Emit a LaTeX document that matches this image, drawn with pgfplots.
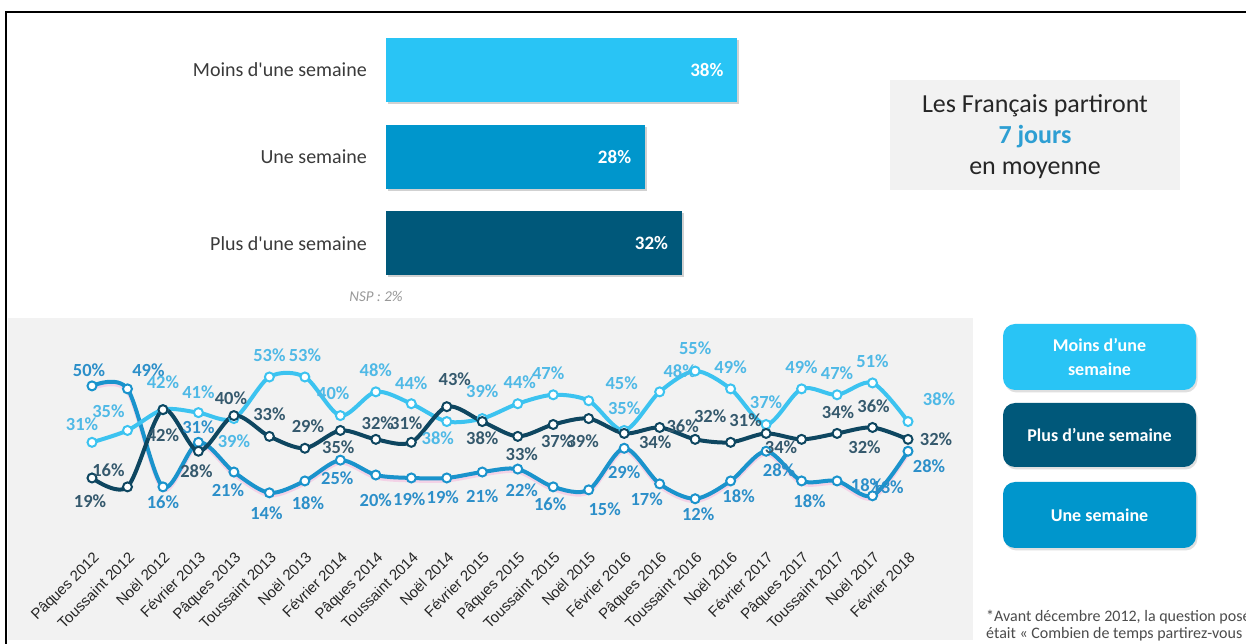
\documentclass[border=0pt]{standalone}
\usepackage{pgfplots}
\pgfplotsset{compat=1.18}
\usepackage{pgfplotstable}
\usepackage{fontspec}
\setmainfont{Carlito}
\newfontfamily\arialf{Liberation Sans}
\usetikzlibrary{shadows}

\definecolor{cLight}{HTML}{29C4F5}
\definecolor{cMid}{HTML}{0096CC}
\definecolor{cDark}{HTML}{00587A}
\definecolor{lnLight}{HTML}{3CC3F0}
\definecolor{lnMid}{HTML}{1A93CC}
\definecolor{lnDark}{HTML}{0E4660}
\definecolor{lbLight}{HTML}{4FB9E6}
\definecolor{lbMid}{HTML}{2C8FC9}
\definecolor{lbDark}{HTML}{35596D}
\definecolor{bgGray}{HTML}{F2F2F2}
\definecolor{txtGray}{HTML}{3A3A3A}
\definecolor{joursBlue}{HTML}{2E9FD3}

% Moins d'une semaine
\pgfplotstableread{
x v dx dy
0 31 -10 18
1 35 -19 19
2 42 0 27
3 41 0 20
4 39 0 -23
5 53 0 22
6 53 0 22
7 40 -7 22
8 48 0 22
9 44 0 21
10 38 -9 -17
11 39 0 27
12 44 2 22
13 47 -5 22
14 45 33 18
15 35 0 22
16 48 20 21
17 55 0 23
18 49 0 22
19 37 0 22
20 49 0 22
21 47 0 22
22 51 0 22
23 38 31 22
}\moins

% Plus d'une semaine
\pgfplotstableread{
x v dx dy
0 19 -2 -23
1 16 -19 17
2 42 0 -26
3 28 -2 -20
4 40 -3 17
5 33 0 22
6 29 3 22
7 35 -2 -17
8 32 2 16
9 31 -5 19
10 43 8 27
11 38 0 -17
12 33 4 -18
13 37 4 -17
14 39 -6 -23
15 34 31 -9
16 36 23 1
17 32 15 23
18 31 15 22
19 34 15 -14
20 32 63 -8
21 34 1 21
22 36 1 21
23 32 28 0
}\plus

% Une semaine
\pgfplotstableread{
x v dx dy
0 50 -3 16
1 49 21 19
2 16 0 -15
3 31 0 15
4 21 -6 -18
5 14 -3 -20
6 18 3 -22
7 25 -3 -18
8 20 0 -25
9 19 -2 -21
10 19 -4 -19
11 21 0 -24
12 22 4 -21
13 16 -3 -17
14 15 16 -19
15 29 0 -24
16 17 -13 -15
17 12 3 -15
18 18 8 -15
19 28 13 -19
20 18 8 -20
21 18 30 -4
22 13 15 9
23 28 21 -15
}\une

\pgfplotsset{
  lab/.style={
    visualization depends on={\thisrow{dx}\as\labdx},
    visualization depends on={\thisrow{dy}\as\labdy},
    point meta=y,
    nodes near coords={\pgfmathprintnumber{\pgfplotspointmeta}\%},
    every node near coord/.append style={anchor=center, inner sep=0pt,
      xshift=\labdx pt, yshift=\labdy pt,
      font=\bfseries\fontsize{18.5}{18.5}\selectfont, text=#1},
  },
  serie/.style={color=#1, line width=4pt, smooth, mark=*, mark size=4.5pt,
    mark options={fill=white, draw=#1, line width=2pt}},
}

\begin{document}
\begin{tikzpicture}
\useasboundingbox (0,0) rectangle (1246pt,644pt);
\fill[white] (0,0) rectangle (1246pt,644pt);
\fill[bgGray] (8pt,4pt) rectangle (973pt,326pt);
\draw[line width=2pt] (6pt,0pt) -- (6pt,632pt) -- (1246pt,632pt);

% bars
\begin{axis}[at={(386pt,400.5pt)}, anchor=south west, scale only axis,
  width=351pt, height=173.5pt, xmin=0, xmax=38, ymin=0, ymax=2,
  clip=false, axis line style={draw=none}, major tick length=0pt,
  /pgf/number format/assume math mode=true,
  xtick=\empty, ytick={0,1,2},
  yticklabels={Plus d\textquotesingle une semaine, Une semaine, Moins d\textquotesingle une semaine},
  yticklabel style={font=\fontsize{20}{20}\selectfont, text=txtGray, inner sep=0pt, anchor=east},
  yticklabel shift=19pt,
  bar width=64pt,
  point meta=x,
  nodes near coords={\pgfmathprintnumber{\pgfplotspointmeta}\%},
  every node near coord/.append style={anchor=east, xshift=-10pt, text=white,
    font=\bfseries\fontsize{19}{19}\selectfont},
]
\addplot[xbar, bar shift=0pt, fill=cLight, draw=none,
  preaction={fill=black!18, transform canvas={shift={(2pt,-2pt)}}}] coordinates {(38,2)};
\addplot[xbar, bar shift=0pt, fill=cMid, draw=none,
  preaction={fill=black!18, transform canvas={shift={(2pt,-2pt)}}}] coordinates {(28,1)};
\addplot[xbar, bar shift=0pt, fill=cDark, draw=none,
  preaction={fill=black!18, transform canvas={shift={(2pt,-2pt)}}}] coordinates {(32,0)};
\end{axis}

\node[font=\itshape\fontsize{15}{15}\selectfont, text=black!40] at (376pt,348pt) {NSP : 2\%};

% info box
\fill[bgGray] (890pt,454pt) rectangle (1180pt,564pt);
\node[font=\fontsize{26}{26}\selectfont, text=black!85] at (1035pt,538pt) {Les Français partiront};
\node[font=\bfseries\fontsize{26}{26}\selectfont, text=joursBlue] at (1035pt,507pt) {7 jours};
\node[font=\fontsize{26}{26}\selectfont, text=black!85] at (1035pt,474pt) {en moyenne};

% line chart
\begin{axis}[at={(92pt,109.6pt)}, anchor=south west, scale only axis,
  width=816pt, height=178.2pt, xmin=0, xmax=23, ymin=0, ymax=60,
  clip=false, axis line style={draw=none}, major tick length=0pt,
  /pgf/number format/assume math mode=true,
  ytick=\empty, xtick={0,...,23},
  xticklabels={Pâques 2012, Toussaint 2012, Noël 2012, Février 2013, Pâques 2013,
    Toussaint 2013, Noël 2013, Février 2014, Pâques 2014, Toussaint 2014, Noël 2014,
    Février 2015, Pâques 2015, Toussaint 2015, Noël 2015, Février 2016, Pâques 2016,
    Toussaint 2016, Noël 2016, Février 2017, Pâques 2017, Toussaint 2017, Noël 2017,
    Février 2018},
  xticklabel style={font=\arialf\fontsize{15}{15}\selectfont, text=black!85,
    inner sep=0pt, rotate=45, anchor=north east},
  xticklabel shift=16pt,
]
\addplot[draw=magenta!40, line width=4pt, opacity=0.35, smooth, no marks, forget plot,
  transform canvas={yshift=-2.5pt}] table[x=x, y=v] {\une};
\addplot[serie=lnMid, lab=lbMid] table[x=x, y=v] {\une};
\addplot[serie=lnLight, lab=lbLight] table[x=x, y=v] {\moins};
\addplot[serie=lnDark, lab=lbDark] table[x=x, y=v] {\plus};
\end{axis}

% legend boxes
\node[fill=cLight, rounded corners=12pt, minimum width=193pt, minimum height=66pt,
  drop shadow={shadow xshift=1.5pt, shadow yshift=-2.5pt, opacity=0.25},
  align=center, text=white, font=\bfseries\fontsize{18}{24}\selectfont]
  at (1099.5pt,287pt) {Moins d’une\\semaine};
\node[fill=cDark, rounded corners=12pt, minimum width=193pt, minimum height=64pt,
  drop shadow={shadow xshift=1.5pt, shadow yshift=-2.5pt, opacity=0.25},
  align=center, text=white, font=\bfseries\fontsize{18}{24}\selectfont]
  at (1099.5pt,209pt) {Plus d’une semaine};
\node[fill=cMid, rounded corners=12pt, minimum width=193pt, minimum height=66pt,
  drop shadow={shadow xshift=1.5pt, shadow yshift=-2.5pt, opacity=0.25},
  align=center, text=white, font=\bfseries\fontsize{18}{24}\selectfont]
  at (1099.5pt,129pt) {Une semaine};

% footnote (cut at the right edge, as in the source)
\node[anchor=west, align=left, inner sep=0pt, text=black!70,
  font=\fontsize{16}{17}\selectfont] at (986pt,18pt)
  {*Avant décembre 2012, la question posée\\était « Combien de temps partirez-vous ? »};
\end{tikzpicture}
\end{document}
